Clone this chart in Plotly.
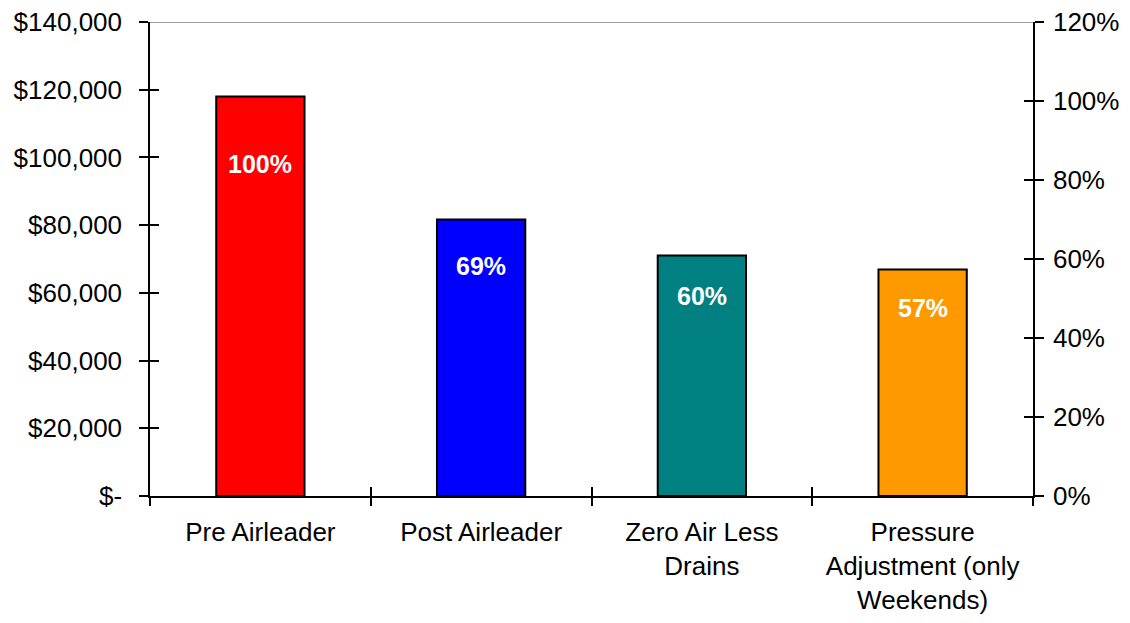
import plotly.graph_objects as go

categories = ["Pre Airleader", "Post Airleader", "Zero Air Less<br>Drains",
              "Pressure<br>Adjustment (only<br>Weekends)"]
costs = [118000, 81700, 71000, 66900]
pct_labels = ["100%", "69%", "60%", "57%"]
bar_colors = ["#FF0000", "#0000FF", "#008080", "#FF9900"]
left_tickvals = [0, 20000, 40000, 60000, 80000, 100000, 120000, 140000]
left_ticktext = ["$-", "$20,000", "$40,000", "$60,000", "$80,000",
                 "$100,000", "$120,000", "$140,000"]
right_tickvals = [0, 0.2, 0.4, 0.6, 0.8, 1.0, 1.2]
right_ticktext = ["0%", "20%", "40%", "60%", "80%", "100%", "120%"]

FONT = "Liberation Sans, Arial, sans-serif"
LABEL_FRAC = 0.83

fig = go.Figure()
fig.add_trace(go.Bar(
    x=list(range(len(categories))), y=costs,
    marker=dict(color=bar_colors, line=dict(color="black", width=2)),
    width=0.4, showlegend=False, hoverinfo="skip",
))

for i, (v, t) in enumerate(zip(costs, pct_labels)):
    fig.add_annotation(x=i, y=v * LABEL_FRAC, text=t, showarrow=False,
                       xref="x", yref="y",
                       font=dict(family=FONT, size=25, color="white", weight="bold"))

axis_common = dict(showgrid=False, zeroline=False, automargin=False,
                   tickcolor="black", tickwidth=1.5, ticklen=9,
                   tickfont=dict(family=FONT, size=26, color="black"))
line_style = dict(linecolor="black", linewidth=1.5)

fig.update_layout(
    width=1130, height=623,
    margin=dict(l=150, r=97, t=22, b=127),
    paper_bgcolor="white", plot_bgcolor="white",
    xaxis=dict(range=[-0.5, 3.5], tickvals=list(range(len(categories))),
               ticktext=categories, ticks="", showline=True,
               ticklabelstandoff=12, **line_style, **axis_common),
    xaxis2=dict(range=[-0.5, 3.5], overlaying="x", anchor="y",
                tickvals=[i + 0.5 for i in range(-1, len(categories))],
                ticks="outside", showticklabels=False, showline=False, **axis_common),
    xaxis3=dict(range=[-0.5, 3.5], overlaying="x", anchor="y",
                tickvals=[i + 0.5 for i in range(-1, len(categories))],
                ticks="inside", showticklabels=False, showline=False, **axis_common),
    yaxis=dict(range=[0, 140000], tickvals=left_tickvals, ticktext=left_ticktext,
               ticks="outside", showline=True, ticklabelstandoff=12,
               **line_style, **axis_common),
    yaxis2=dict(range=[0, 1.2], overlaying="y", side="right", anchor="x",
                tickvals=right_tickvals, ticktext=right_ticktext,
                ticks="outside", showline=True, ticklabelstandoff=4,
                **line_style, **axis_common),
    yaxis3=dict(range=[0, 140000], overlaying="y", anchor="x", side="left",
                tickvals=left_tickvals, ticks="inside", showticklabels=False,
                showline=False, **axis_common),
    yaxis4=dict(range=[0, 1.2], overlaying="y", side="right", anchor="x",
                tickvals=right_tickvals, ticks="inside", showticklabels=False,
                showline=False, **axis_common),
)

# invisible helper traces so overlay axes are drawn
fig.add_trace(go.Scatter(x=[None], y=[None], xaxis="x2", yaxis="y3", showlegend=False, hoverinfo="skip"))
fig.add_trace(go.Scatter(x=[None], y=[None], xaxis="x3", yaxis="y4", showlegend=False, hoverinfo="skip"))
fig.add_trace(go.Scatter(x=[None], y=[None], xaxis="x", yaxis="y2", showlegend=False, hoverinfo="skip"))

# gray top border line at the top of the value range
fig.add_shape(type="line", xref="paper", yref="y", x0=0, x1=1,
              y0=left_tickvals[-1], y1=left_tickvals[-1],
              line=dict(color="#808080", width=1.5))

fig.write_html("out.html")
